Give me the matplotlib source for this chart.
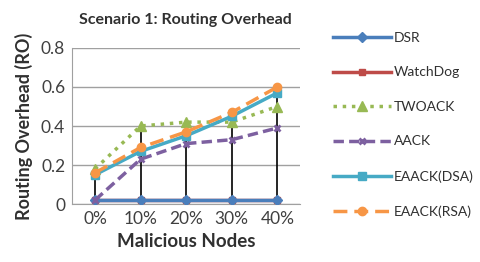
import matplotlib
matplotlib.use("Agg")
import matplotlib.pyplot as plt
import numpy as np

plt.rcParams['font.family'] = ['Lato', 'DejaVu Sans']

# data
categories = ["0%", "10%", "20%", "30%", "40%"]
dsr = [0.02, 0.02, 0.02, 0.02, 0.02]
watchdog = [0.02, 0.02, 0.02, 0.02, 0.02]
twoack = [0.18, 0.40, 0.42, 0.42, 0.50]
aack = [0.02, 0.23, 0.31, 0.33, 0.39]
eaack_dsa = [0.15, 0.27, 0.35, 0.45, 0.57]
eaack_rsa = [0.16, 0.29, 0.37, 0.47, 0.60]
yticks = [0, 0.2, 0.4, 0.6, 0.8]
ytick_labels = ["0", "0.2", "0.4", "0.6", "0.8"]

fig = plt.figure(figsize=(4.81, 2.62), dpi=100)
ax = fig.add_axes([0.150, 0.221, 0.474, 0.596])
x = np.arange(len(categories))

# drop lines from the highest series down to the axis
tops = np.max([dsr, watchdog, twoack, aack, eaack_dsa, eaack_rsa], axis=0)
ax.vlines(x, 0, tops, color="black", lw=1.2, zorder=2)

ax.plot(x, watchdog, color="#be4b48", lw=2.5, marker="s", ms=5, label="WatchDog", zorder=3)
ax.plot(x, dsr, color="#4a7ebb", lw=2.5, marker="D", ms=5, label="DSR", zorder=3)
ax.plot(x, twoack, color="#98b954", lw=2.5, ls=":", marker="^", ms=7, label="TWOACK", zorder=3)
ax.plot(x, aack, color="#7d60a0", lw=2.5, ls=(0, (3, 1.5)), marker="x", ms=5, mew=2, label="AACK", zorder=3)
ax.plot(x, eaack_dsa, color="#46aac5", lw=2.5, marker="s", ms=6, label="EAACK(DSA)", zorder=3)
ax.plot(x, eaack_rsa, color="#f79646", lw=2.5, ls=(0, (4, 2)), marker="o", ms=6, label="EAACK(RSA)", zorder=3)

ax.set_xlim(-0.5, len(categories) - 0.5)
ax.set_ylim(0, 0.8)
ax.set_yticks(yticks)
ax.set_yticklabels(ytick_labels)
ax.set_xticks(x)
ax.set_xticklabels(categories)
ax.tick_params(axis="both", labelsize=12.5, length=0, colors="#404040", pad=5)
ax.grid(axis="y", color="#a0a0a0", lw=1)
ax.set_axisbelow(True)
for side in ["top", "right"]:
    ax.spines[side].set_visible(False)
ax.spines["left"].set_color("#a0a0a0")
ax.spines["bottom"].set_color("#a0a0a0")

fig.text(0.385, 0.925, "Scenario 1: Routing Overhead", fontsize=11.5, fontweight="bold",
         color="#303030", ha="center", va="center")
ax.set_xlabel("Malicious Nodes", fontsize=13.5, fontweight="bold", color="#303030", labelpad=4)
ax.set_ylabel("Routing Overhead (RO)", fontsize=13, fontweight="bold", color="#303030", labelpad=6)

handles, labels = ax.get_legend_handles_labels()
order = [1, 0, 2, 3, 4, 5]
fig.legend([handles[i] for i in order], [labels[i] for i in order],
           loc="upper left", bbox_to_anchor=(0.692, 0.878), frameon=False, fontsize=10,
           handlelength=4.2, labelspacing=1.62, handletextpad=0.2, borderpad=0,
           borderaxespad=0, labelcolor="#303030")

fig.savefig("out.png", dpi=100)
